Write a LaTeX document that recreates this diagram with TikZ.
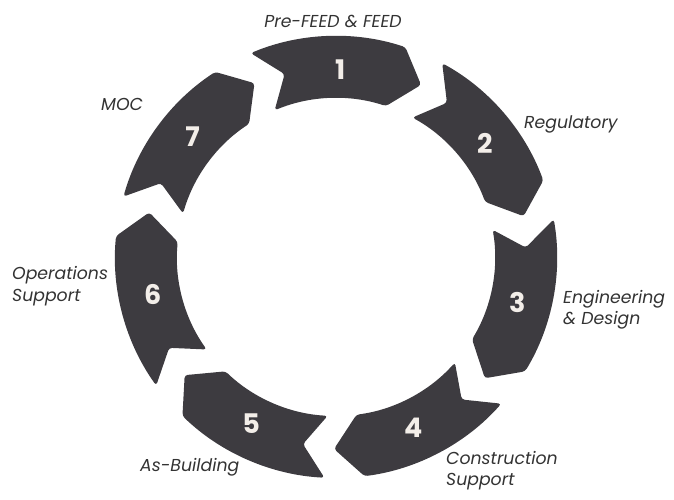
\documentclass[tikz,border=0pt]{standalone}
\usepackage{fontspec}
\setmainfont{Poppins}
\definecolor{segc}{HTML}{3D3B40}
\definecolor{numc}{HTML}{F3EEE9}
\definecolor{labc}{HTML}{333333}
\begin{document}
\begin{tikzpicture}[x=1pt,y=1pt,
  segshape/.style={fill=segc, rounded corners=3pt},
  numtxt/.style={text=numc, font=\bfseries\fontsize{27}{27}\selectfont, inner sep=0pt},
  labtxt/.style={text=labc, font=\itshape\fontsize{17.3}{21.5}\selectfont, align=left, inner sep=0pt}]
\useasboundingbox (0,0) rectangle (674,-499);
\coordinate (C) at (336,-257);
\begin{scope}[shift={(C)}]
\foreach \k in {0,...,6}{
  \pgfmathsetmacro\t{91.7-51.4286*\k}
  \pgfmathsetmacro\a{\t+21}
  \pgfmathsetmacro\b{\t-20}
  \pgfmathsetmacro\c{\t-28}
  \pgfmathsetmacro\d{\t+14}
  \fill[segshape] (\a:221pt) arc[start angle=\a, end angle=\b, radius=221pt]
     -- (\c:192pt) -- (\b:159pt) arc[start angle=\b, end angle=\a, radius=159pt]
     -- (\d:190pt) -- cycle;
}
\node[numtxt] (n1) at (88.7:187pt) {1};
\node[numtxt] (n2) at (37.3:187pt) {2};
\node[numtxt] (n3) at (-14.1:187pt) {3};
\node[numtxt] (n4) at (-65.6:187pt) {4};
\node[numtxt] (n5) at (-117.0:187pt) {5};
\node[numtxt] (n6) at (-168.4:187pt) {6};
\node[numtxt] (n7) at (140.1:187pt) {7};
\end{scope}
\node[labtxt] (l1) at (333,-21) {Pre-FEED \& FEED};
\node[labtxt, anchor=west] (l2) at (524,-124) {Regulatory};
\node[labtxt, anchor=west] (l3) at (563,-309.5) {Engineering\\\& Design};
\node[labtxt, anchor=west] (l4) at (446,-470.5) {Construction\\Support};
\node[labtxt, anchor=west] (l5) at (140,-467) {As-Building};
\node[labtxt, anchor=west] (l6) at (12,-286) {Operations\\Support};
\node[labtxt, anchor=west] (l7) at (101,-104) {MOC};
\end{tikzpicture}
\end{document}
